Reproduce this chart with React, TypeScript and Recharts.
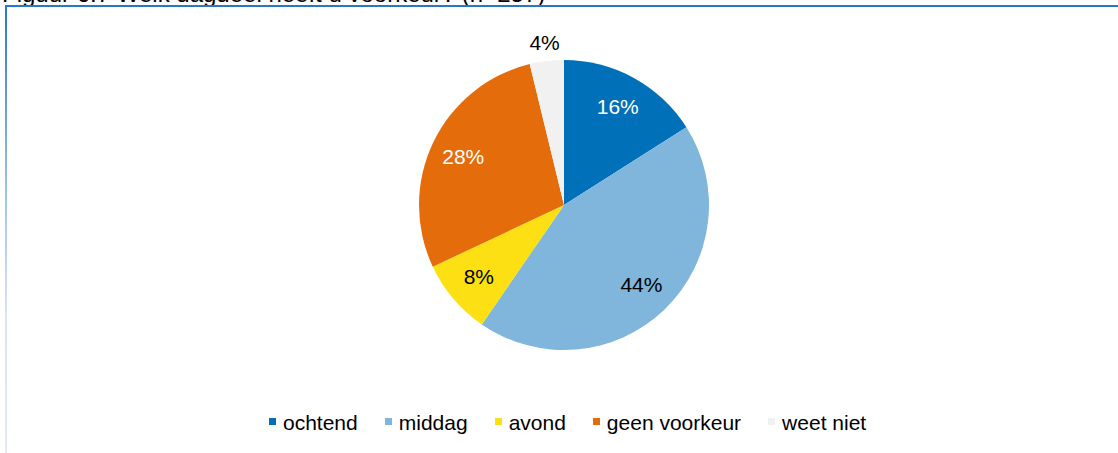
import React from 'react';
import { PieChart, Pie, Cell, Legend } from 'recharts';

const categories = ['ochtend', 'middag', 'avond', 'geen voorkeur', 'weet niet'];
const shares = [16.0, 43.6, 8.4, 28.2, 3.8];

const COLORS = ['#0070b9', '#80b6dc', '#fde013', '#e46c0b', '#f1f1f1'];
const LABEL_COLORS = ['#ffffff', '#000000', '#000000', '#ffffff', '#000000'];
const FONT = '"Liberation Sans", Arial, sans-serif';
const RADIAN = Math.PI / 180;

const data = categories.map((name, i) => ({ name, value: shares[i] }));

const renderLabel = (props: any) => {
    const { cx, cy, midAngle, outerRadius, percent, index } = props;
    const outside = percent < 0.05;
    const r = outside ? outerRadius + 18 : outerRadius * 0.77;
    const x = cx + r * Math.cos(-midAngle * RADIAN);
    const y = cy + r * Math.sin(-midAngle * RADIAN);
    return (
        <text
            x={x}
            y={y}
            dy={7}
            textAnchor="middle"
            fill={outside ? '#000000' : LABEL_COLORS[index]}
            style={{ fontFamily: FONT, fontSize: 21 }}
        >
            {`${Math.round(percent * 100)}%`}
        </text>
    );
};

const renderLegend = () => (
    <div style={{ display: 'flex', paddingLeft: 269, fontFamily: FONT, fontSize: 21, lineHeight: '24px' }}>
        {categories.map((name, i) => (
            <div key={name} style={{ display: 'flex', alignItems: 'flex-start', marginRight: 27 }}>
                <span style={{ width: 7, height: 7, marginTop: 7, marginRight: 7, background: COLORS[i] }} />
                <span style={{ color: '#000' }}>{name}</span>
            </div>
        ))}
    </div>
);

const App: React.FC = () => {
    return (
        <div style={{ position: 'absolute', left: 0, top: 0, width: 1118, height: 453, overflow: 'hidden', background: '#fff' }}>
            <div
                style={{
                    position: 'absolute',
                    left: 2,
                    top: -20,
                    fontFamily: FONT,
                    fontSize: 24,
                    lineHeight: '28px',
                    whiteSpace: 'nowrap',
                    color: '#000',
                }}
            >
                Figuur 6.7 Welk dagdeel heeft u voorkeur? (n=257)
            </div>
            <div style={{ position: 'absolute', left: 5, top: 5, width: 1113, height: 2, background: '#2a76c6' }} />
            <div
                style={{
                    position: 'absolute',
                    left: 5,
                    top: 5,
                    width: 2,
                    height: 448,
                    background: 'linear-gradient(#2a76c6 0%, #a7c6ea 45%, #dbe3f4 70%, #e4e8f6 100%)',
                }}
            />
            <div style={{ position: 'absolute', left: 0, top: 0 }}>
                <PieChart width={1118} height={453} margin={{ top: 0, right: 0, bottom: 0, left: 0 }}>
                    <Pie
                        data={data}
                        dataKey="value"
                        nameKey="name"
                        cx={564}
                        cy={205}
                        outerRadius={145}
                        startAngle={90}
                        endAngle={-270}
                        stroke="none"
                        label={renderLabel}
                        labelLine={false}
                        isAnimationActive={false}
                    >
                        {data.map((d, i) => (
                            <Cell key={d.name} fill={COLORS[i]} />
                        ))}
                    </Pie>
                    <Legend
                        content={renderLegend}
                        wrapperStyle={{ position: 'absolute', top: 411, left: 0, width: 1118 }}
                    />
                </PieChart>
            </div>
        </div>
    );
};

export default App;
